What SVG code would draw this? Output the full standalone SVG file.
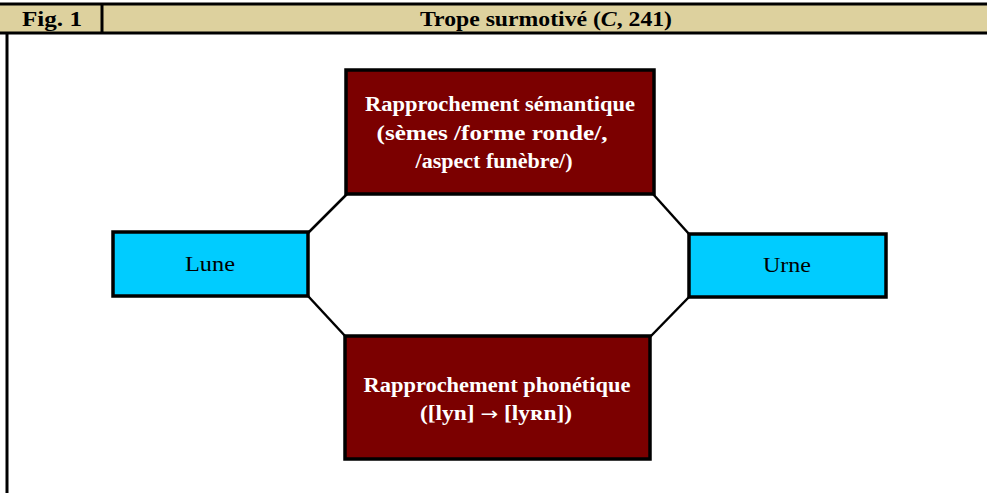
<svg xmlns="http://www.w3.org/2000/svg" width="987" height="493" viewBox="0 0 987 493">
<style>
.hdr{fill:#DDD19E;stroke:none}
.ln{stroke:#000;stroke-width:3;fill:none}
.dark{fill:#7B0000;stroke:#000;stroke-width:3.5}
.cyan{fill:#00CCFF;stroke:#000;stroke-width:3.5}
.ht{font-family:"Liberation Serif",serif;font-weight:bold;font-size:22px;fill:#000;text-anchor:middle}
.wt{font-family:"Liberation Serif",serif;font-weight:bold;font-size:20px;fill:#fff;text-anchor:middle}
.bt{font-family:"Liberation Serif",serif;font-size:21px;fill:#000;text-anchor:middle}
.conn{stroke:#000;stroke-width:2.5;fill:none}
</style>
<rect width="987" height="493" fill="#fff"/>
<g id="header">
<rect class="hdr" x="0" y="3" width="987" height="30"/>
<line class="ln" x1="0" y1="4" x2="987" y2="4"/>
<line class="ln" x1="0" y1="33" x2="987" y2="33"/>
<line class="ln" x1="102" y1="4" x2="102" y2="33"/>
<line class="ln" x1="7" y1="33" x2="7" y2="493"/>
<text class="ht" x="52" y="26" textLength="60" lengthAdjust="spacingAndGlyphs">Fig. 1</text>
<text class="ht" x="546" y="26" textLength="252" lengthAdjust="spacingAndGlyphs">Trope surmotivé (<tspan font-style="italic">C</tspan>, 241)</text>
</g>
<g id="connectors">
<line class="conn" x1="308" y1="233" x2="347" y2="194"/>
<line class="conn" x1="308" y1="296" x2="346" y2="337"/>
<line class="conn" x1="689" y1="234" x2="653" y2="194"/>
<line class="conn" x1="689" y1="297" x2="650" y2="337"/>
</g>
<g id="semantique">
<rect class="dark" x="346" y="70" width="308" height="124"/>
<text class="wt" x="500" y="111" textLength="270" lengthAdjust="spacingAndGlyphs">Rapprochement sémantique</text>
<text class="wt" x="492" y="140" textLength="231" lengthAdjust="spacingAndGlyphs">(sèmes /forme ronde/,</text>
<text class="wt" x="494" y="168" textLength="157" lengthAdjust="spacingAndGlyphs">/aspect funèbre/)</text>
</g>
<g id="phonetique">
<rect class="dark" x="345" y="336" width="305" height="123"/>
<text class="wt" x="497" y="392" textLength="267" lengthAdjust="spacingAndGlyphs">Rapprochement phonétique</text>
<text class="wt" x="496" y="420" textLength="152" lengthAdjust="spacingAndGlyphs">([lyn] <tspan font-family="DejaVu Sans, sans-serif" font-weight="normal" font-size="18">→</tspan> [lyʀn])</text>
</g>
<g id="lune">
<rect class="cyan" x="113" y="232" width="195" height="64"/>
<text class="bt" x="210" y="271" textLength="50" lengthAdjust="spacingAndGlyphs">Lune</text>
</g>
<g id="urne">
<rect class="cyan" x="689" y="234" width="197" height="63"/>
<text class="bt" x="787" y="272" textLength="48" lengthAdjust="spacingAndGlyphs">Urne</text>
</g>
</svg>
